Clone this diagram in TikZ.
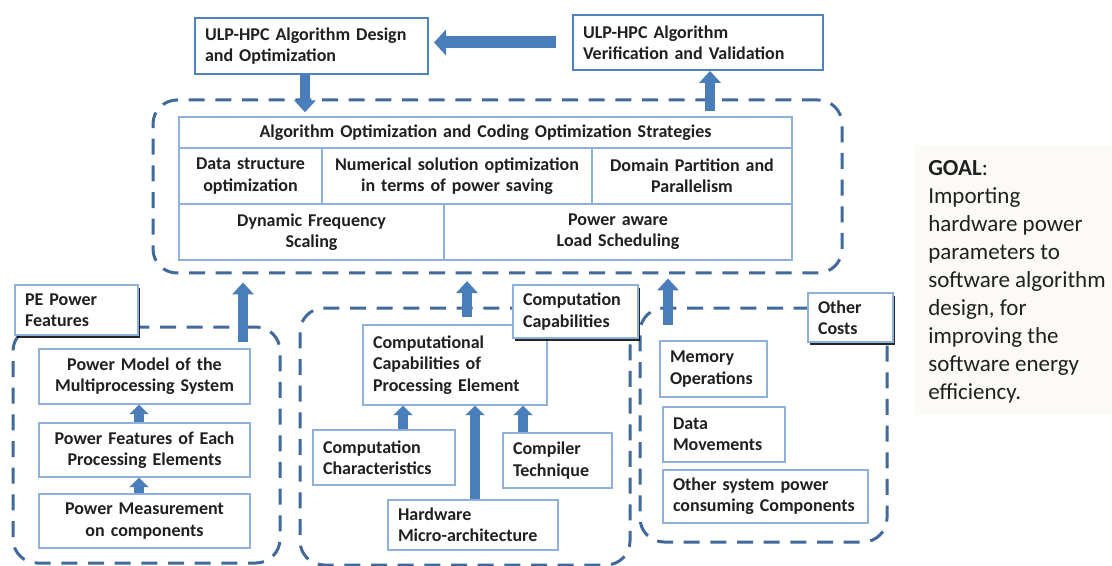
\documentclass[tikz,border=0pt]{standalone}
\usepackage{fontspec}
\setmainfont{Carlito}
\usetikzlibrary{arrows.meta,shadows}
\definecolor{dashblue}{HTML}{41699B}
\definecolor{arrblue}{HTML}{4A7EBB}
\definecolor{boxblue}{HTML}{4F81BD}
\definecolor{lightbox}{HTML}{8DB0DC}
\definecolor{txt}{HTML}{202020}
\definecolor{goalbg}{HTML}{FCFAF7}
\newcommand{\bxat}[7][]{%
  \pgfmathsetmacro\bxw{(#5-#3)*0.75}%
  \pgfmathsetmacro\bxh{(#6-#4)*0.75}%
  \pgfmathsetmacro\bxt{\bxw-15}%
  \node[bx,minimum width=\bxw pt,minimum height=\bxh pt,text width=\bxt pt,#1] (#2) at ({(#3+#5)/2},{(#4+#6)/2}) {#7};}
\tikzset{
  bx/.style={draw=lightbox, line width=1.1pt, fill=white, text=txt,
    font=\fontsize{13.5}{16}\selectfont\bfseries, inner xsep=7.5pt, inner ysep=0pt, align=center},
  topbx/.style={draw=boxblue, line width=1.5pt},
  lbl/.style={align=left, drop shadow={shadow xshift=1.5pt,shadow yshift=-2.5pt,fill=black,opacity=0.85}},
  grp/.style={draw=dashblue, fill=none, line width=2.25pt, dash pattern=on 12pt off 8pt, rounded corners=18pt},
  bigarr/.style={draw=arrblue, line width=7.5pt, -{Triangle[width=16pt,length=9pt]}},
  smarr/.style={draw=arrblue, line width=7pt, -{Triangle[width=14pt,length=7pt]}},
  horarr/.style={draw=arrblue, line width=9pt, -{Triangle[width=19pt,length=9pt]}},
}
\begin{document}
\begin{tikzpicture}[x=0.75pt,y=-0.75pt]
\useasboundingbox[fill=white] (0,0) rectangle (1112,566);
% dashed groups
\bxat[grp]{grpL}{13}{327}{280}{563}{}
\bxat[grp]{grpM}{300}{308}{630}{565}{}
\bxat[grp]{grpR}{640}{308}{887}{542}{}
\bxat[grp]{big}{153}{100}{842}{273}{}
% top boxes
\bxat[topbx,align=left]{dsn}{195}{18}{428}{74}{ULP-HPC Algorithm Design\\and Optimization}
\bxat[topbx,align=left]{ver}{573}{15}{823}{70}{ULP-HPC Algorithm\\Verification and Validation}
% table
\bxat{t1}{179}{117}{792}{148}{Algorithm Optimization and Coding Optimization Strategies}
\bxat{t21}{179}{148}{322}{204}{Data structure\\optimization}
\bxat{t22}{322}{148}{592}{204}{Numerical solution optimization\\in terms of power saving}
\bxat{t23}{592}{148}{792}{204}{Domain Partition and\\Parallelism}
\bxat{t31}{179}{204}{444}{260}{Dynamic Frequency\\Scaling}
\bxat{t32}{444}{204}{792}{260}{Power aware\\Load Scheduling}
% left group
\bxat[lbl]{pe}{15}{285}{138}{335}{PE Power\\Features}
\bxat{pmod}{39}{349}{250}{404}{Power Model of the\\Multiprocessing System}
\bxat{pfe}{39}{423}{250}{477}{Power Features of Each\\Processing Elements}
\bxat{pme}{39}{494}{250}{548}{Power Measurement\\on components}
% middle group
\bxat[align=left]{ccpe}{363}{325}{547}{405}{Computational\\Capabilities of\\Processing Element}
\bxat[lbl]{cc}{513}{285}{638}{338}{Computation\\Capabilities}
\bxat[align=left]{cch}{313}{430}{455}{485}{Computation\\Characteristics}
\bxat[align=left]{cmp}{503}{433}{612}{488}{Compiler\\Technique}
\bxat[align=left]{hw}{388}{500}{558}{550}{Hardware\\Micro-architecture}
% right group
\bxat[lbl]{oc}{808}{293}{893}{342}{Other\\Costs}
\bxat[align=left]{mem}{660}{341}{767}{397}{Memory\\Operations}
\bxat[align=left]{dat}{663}{407}{785}{462}{Data\\Movements}
\bxat[align=left]{osc}{663}{470}{868}{523}{Other system power\\consuming Components}
% goal
\bxat[draw=none,fill=goalbg]{goalbg}{915}{145}{1112}{415}{}
\node[anchor=north west, inner sep=0pt, align=left, text=txt,
  font=\fontsize{17.25}{21}\selectfont] (goal) at (928,160)
  {\textbf{GOAL}:\\Importing\\hardware power\\parameters to\\software algorithm\\design, for\\improving the\\software energy\\efficiency.};
% arrows
\draw[horarr, shorten <=12pt, shorten >=3.75pt] (ver.west) -- (ver.west -| dsn.east);
\draw[bigarr, shorten >=3pt] (dsn.south -| 305,0) -- (t1.north -| 305,0);
\draw[bigarr, shorten <=3.75pt] (t1.north -| 710,0) -- (ver.south -| 710,0);
\coordinate (a3) at (243,342);
\coordinate (a4) at (467,317);
\coordinate (a5) at (668,325);
\draw[bigarr, shorten >=6pt] (a3) -- (big.south -| a3);
\draw[bigarr, shorten >=5pt] (a4) -- (big.south -| a4);
\draw[bigarr, shorten >=3pt] (a5) -- (big.south -| a5);
\draw[smarr] (pme.north -| 139,0) -- (pfe.south -| 139,0);
\draw[smarr] (pfe.north -| 139,0) -- (pmod.south -| 139,0);
\draw[smarr] (cch.north -| 403,0) -- (ccpe.south -| 403,0);
\draw[smarr] (hw.north -| 475,0) -- (ccpe.south -| 475,0);
\draw[smarr] (cmp.north -| 523,0) -- (ccpe.south -| 523,0);
\end{tikzpicture}
\end{document}
